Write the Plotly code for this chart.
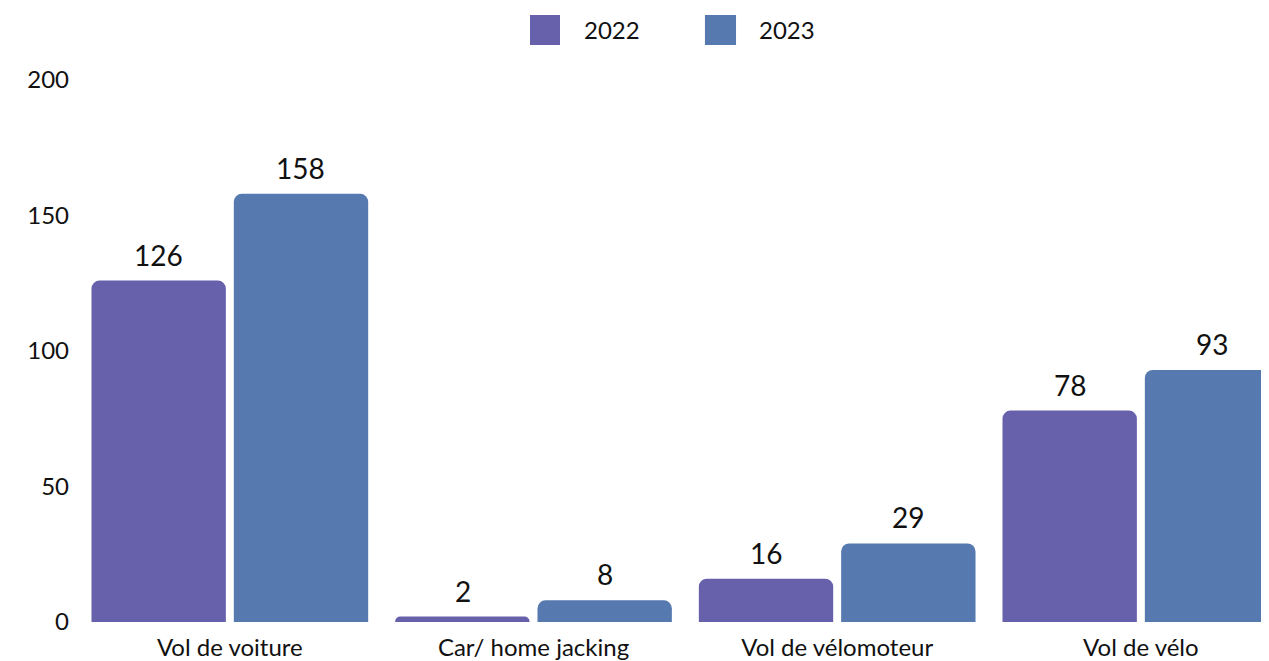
import plotly.graph_objects as go

categories = ["Vol de voiture", "Car/ home jacking", "Vol de vélomoteur", "Vol de vélo"]
series_names = ["2022", "2023"]
values_2022 = [126, 2, 16, 78]
values_2023 = [158, 8, 29, 93]
y_ticks = [0, 50, 100, 150, 200]

colors = {"2022": "#6761AC", "2023": "#5679B0"}
FONT = "Lato, 'Open Sans', sans-serif"
TXT = "#111111"

fig = go.Figure()
annotations = []
for name, vals, xs in zip(series_names, [values_2022, values_2023], [-71, 71]):
    fig.add_trace(go.Bar(
        x=categories, y=vals, name=name,
        marker=dict(color=colors[name], line=dict(width=0)),
        showlegend=False,
    ))
    for c, v in zip(categories, vals):
        annotations.append(dict(x=c, y=v, xref="x", yref="y", text=str(v),
                                showarrow=False, xanchor="center", yanchor="bottom",
                                xshift=xs, yshift=7,
                                font=dict(family=FONT, size=28, color=TXT)))

# custom legend (large squares)
legend_items = [("2022", 0.3795, 0.4047, 0.4232), ("2023", 0.5264, 0.5525, 0.5701)]
shapes = []
for name, x0, x1, xt in legend_items:
    shapes.append(dict(type="rect", xref="paper", yref="paper",
                       x0=x0, x1=x1, y0=1.0646, y1=1.1199,
                       fillcolor=colors[name], line=dict(width=0)))
    annotations.append(dict(xref="paper", yref="paper", x=xt, y=1.0923,
                            xanchor="left", yanchor="middle", showarrow=False,
                            text=name, font=dict(family=FONT, size=24, color=TXT)))

fig.update_layout(
    width=1261, height=653,
    margin=dict(l=70, r=0, t=72, b=39),
    paper_bgcolor="white", plot_bgcolor="white",
    barmode="group", bargap=0.0626, bargroupgap=0.056,
    barcornerradius=8,
    font=dict(family=FONT, size=24, color=TXT),
    shapes=shapes, annotations=annotations,
    xaxis=dict(type="category", range=[-0.5, 3.422], showgrid=False,
               showline=False, zeroline=False, ticks="", ticklabelstandoff=9,
               tickfont=dict(family=FONT, size=24, color=TXT)),
    yaxis=dict(range=[0, 200], tickvals=y_ticks, showgrid=False,
               showline=False, zeroline=False, ticks="", ticklabelstandoff=8,
               tickfont=dict(family=FONT, size=24, color=TXT)),
)

fig.write_html("out.html")
